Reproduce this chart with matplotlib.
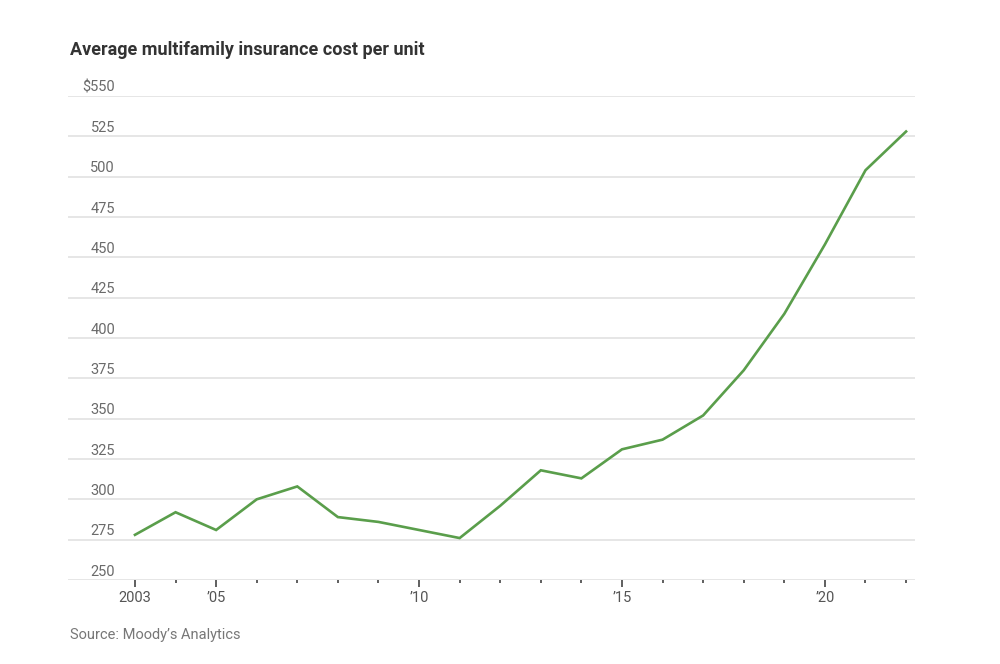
import matplotlib.pyplot as plt
from matplotlib.ticker import FixedLocator

# data
years = list(range(2003, 2023))
cost = [278, 292, 281, 300, 308, 289, 286, 281, 276, 296,
        318, 313, 331, 337, 352, 380, 415, 458, 504, 528]

y_ticks = [250, 275, 300, 325, 350, 375, 400, 425, 450, 475, 500, 525, 550]
y_labels = ["250", "275", "300", "325", "350", "375", "400", "425", "450",
            "475", "500", "525", "$550"]
x_major = [2003, 2005, 2010, 2015, 2020]
x_labels = ["2003", "\u201905", "\u201910", "\u201915", "\u201920"]

plt.rcParams['font.family'] = ['Roboto', 'DejaVu Sans']

fig = plt.figure(figsize=(10, 6.64), dpi=100)
ax = fig.add_axes([0.068, 0.1265, 0.847, 0.7289])

ax.plot(years, cost, color="#5a9e4b", linewidth=1.9, clip_on=False, zorder=3,
        solid_joinstyle="miter")

ax.set_xlim(2001.35, 2022.22)
ax.set_ylim(250, 550)

# horizontal grid lines
for y in y_ticks:
    ax.axhline(y, color="#e4e4e4", linewidth=1.3, zorder=1)

# y labels sit above the grid lines
for y, lab in zip(y_ticks, y_labels):
    ax.annotate(lab, xy=(0.0555, y), xycoords=ax.get_yaxis_transform(),
                xytext=(0, 1), textcoords="offset points",
                ha="right", va="bottom", fontsize=10.5, color="#6a6a6a")

ax.set_yticks([])
for s in ax.spines.values():
    s.set_visible(False)

ax.xaxis.set_major_locator(FixedLocator(x_major))
ax.xaxis.set_minor_locator(FixedLocator(years))
ax.set_xticklabels(x_labels)
ax.tick_params(axis="x", which="major", length=5, width=1.2, color="#444444",
               labelsize=10.5, labelcolor="#555555", pad=3)
ax.tick_params(axis="x", which="minor", length=2.5, width=1.2, color="#444444")

fig.text(0.070, 0.911, "Average multifamily insurance cost per unit",
         fontsize=13, fontweight="bold", color="#333333", ha="left", va="bottom")
fig.text(0.070, 0.033, "Source: Moody\u2019s Analytics",
         fontsize=10.5, color="#777777", ha="left", va="bottom")

fig.savefig("out.png", dpi=100, facecolor="white")
